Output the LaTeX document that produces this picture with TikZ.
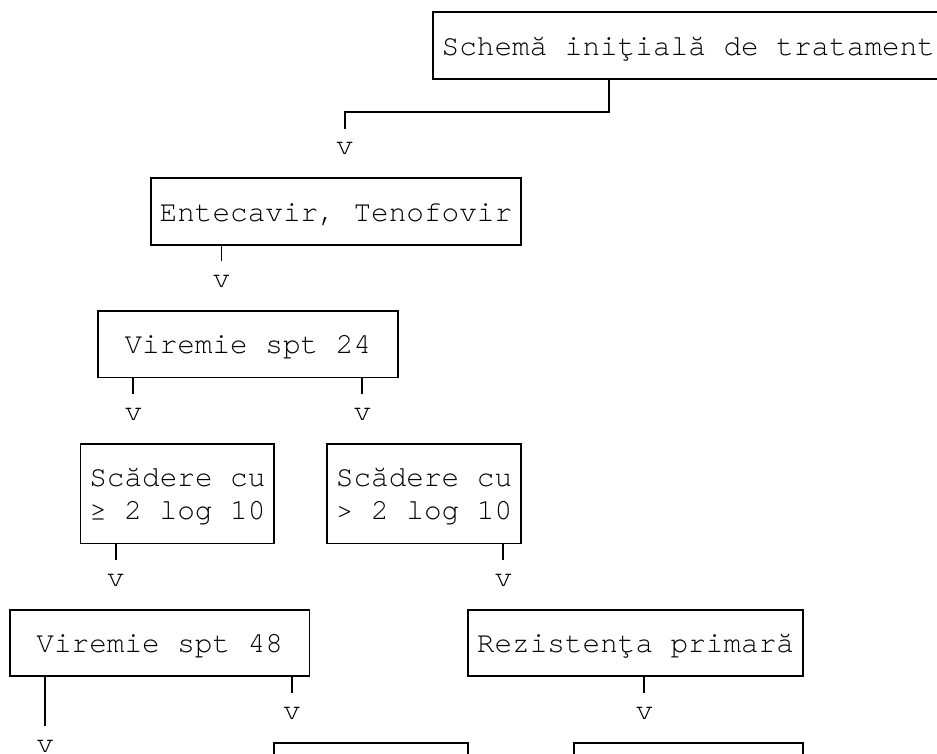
\documentclass[tikz,border=0pt]{standalone}
\usepackage{fontspec}
\newfontfamily\flowmono[Extension=.otf]{texgyrecursor-regular}
\begin{document}
% Grid: one column = one monospace character cell, one row = one text line
\begin{tikzpicture}[x=13.215pt, y=-24.9pt,
  every node/.style={inner sep=0pt, outer sep=0pt},
  cell/.style={font={\flowmono\fontsize{22.03pt}{24.9pt}\selectfont},
               text height=19.65pt, text depth=5.25pt},
  cols/.style={minimum width=#1*13.215pt},
  flowbox/.style={cell, draw, line width=1.4pt, minimum height=49.8pt},
  tallbox/.style={draw, line width=1.4pt, minimum height=74.7pt},
  openbox/.style={draw, line width=1.4pt, minimum height=49.8pt},
  link/.style={line width=1.4pt}]

\path[use as bounding box] (-0.5675,-0.3705) rectangle (52.611,22.340);
\fill[white] (-0.5675,-0.3705) rectangle (52.611,22.340);
\clip (-0.5675,-0.3705) rectangle (52.611,22.340);

% boxes
\node[flowbox, cols=29] (start)  at (38.5,1)  {Schemă iniţială de tratament};
\node[flowbox, cols=21] (drugs)  at (18.5,6)  {Entecavir, Tenofovir};
\node[flowbox, cols=17] (vir24)  at (13.5,10) {Viremie spt 24};
\node[tallbox, cols=11] (dropA)  at (9.5,14.5) {};
\node[cell] (dropAa) at (9.5,14) {Scădere cu};
\node[cell] (dropAb) at (9.5,15) {≥ 2 log 10};
\node[tallbox, cols=11] (dropB)  at (23.5,14.5) {};
\node[cell] (dropBa) at (23.5,14) {Scădere cu};
\node[cell] (dropBb) at (23.5,15) {> 2 log 10};
\node[flowbox, cols=17] (vir48)  at (8.5,19)  {Viremie spt 48};
\node[flowbox, cols=19] (resist) at (35.5,19) {Rezistenţa primară};
\node[openbox, cols=11] (nextA)  at (20.5,23) {};
\node[openbox, cols=13] (nextB)  at (38.5,23) {};

% arrow heads, typed as the letter v
\node[cell] (a1) at (19,4)  {v};
\node[cell] (a2) at (12,8)  {v};
\node[cell] (a3) at (7,12)  {v};
\node[cell] (a4) at (20,12) {v};
\node[cell] (a5) at (6,17)  {v};
\node[cell] (a6) at (28,17) {v};
\node[cell] (a7) at (2,22)  {v};
\node[cell] (a8) at (16,21) {v};
\node[cell] (a9) at (36,21) {v};

% connectors
\coordinate (bend) at (34,3);
\draw[link] (start.south -| bend) -- (bend) -| (a1.north);
\draw[link] (drugs.south -| a2) -- (a2.north);
\draw[link] (vir24.south -| a3) -- (a3.north);
\draw[link] (vir24.south -| a4) -- (a4.north);
\draw[link] (dropA.south -| a5) -- (a5.north);
\draw[link] (dropB.south -| a6) -- (a6.north);
\draw[link] (vir48.south -| a7) -- (a7.north);
\draw[link] (vir48.south -| a8) -- (a8.north);
\draw[link] (resist.south -| a9) -- (a9.north);
\end{tikzpicture}
\end{document}
